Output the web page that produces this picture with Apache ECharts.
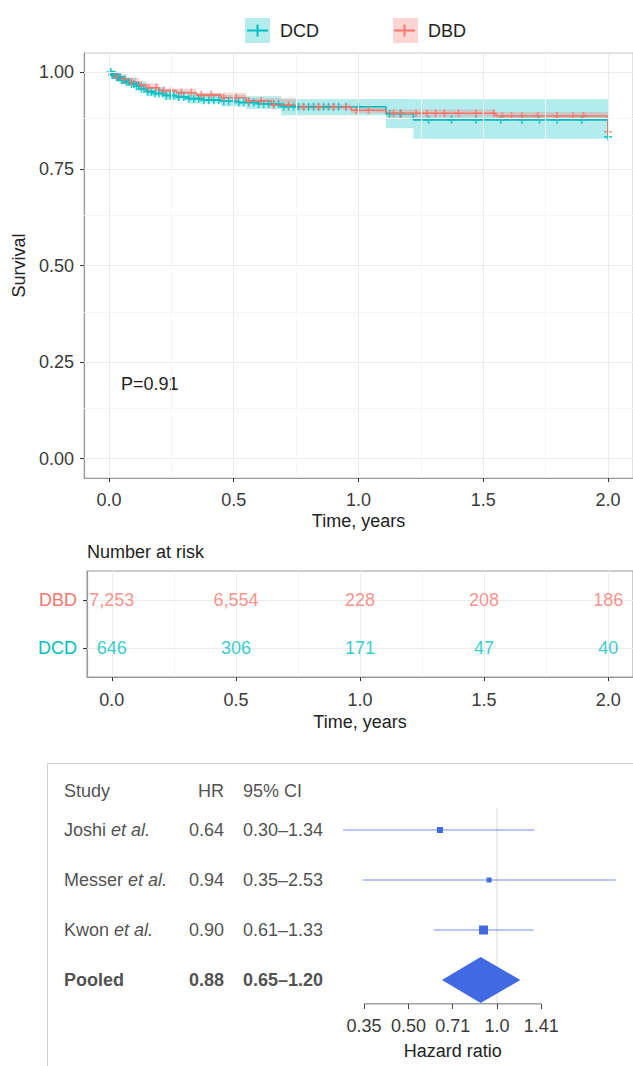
<!DOCTYPE html>
<html><head><meta charset="utf-8">
<script src="https://cdn.jsdelivr.net/npm/echarts@6/dist/echarts.min.js"></script>
<style>html,body{margin:0;padding:0;background:#fff}#c{width:633px;height:1066px}</style>
</head><body><div id="c"></div>
<script>
// ================= DATA =================
const groupNames = ['DCD', 'DBD'];
const groupColors = ['#00BFC4', '#F8766D'];
const groupBandColors = ['rgba(0,191,196,0.30)', 'rgba(248,118,109,0.30)'];

// Kaplan-Meier steps
const dcdTimes = [0, 0.01, 0.03, 0.05, 0.07, 0.09, 0.11, 0.13, 0.15, 0.18, 0.22, 0.27, 0.32, 0.38, 0.45, 0.52, 0.60, 0.69, 1.11, 1.22, 2.0];
const dcdSurv  = [1.000, 0.994, 0.987, 0.980, 0.975, 0.970, 0.964, 0.957, 0.950, 0.945, 0.940, 0.936, 0.932, 0.928, 0.925, 0.922, 0.918, 0.911, 0.893, 0.877, 0.833];
const dbdTimes = [0, 0.02, 0.05, 0.08, 0.12, 0.15, 0.20, 0.27, 0.35, 0.45, 0.55, 0.65, 0.75, 0.97, 1.11, 1.55, 2.0];
const dbdSurv  = [1.000, 0.990, 0.982, 0.975, 0.967, 0.960, 0.953, 0.947, 0.941, 0.934, 0.926, 0.915, 0.910, 0.902, 0.894, 0.887, 0.846];

// confidence bands
const dcdBandTimes = [0, 0.03, 0.07, 0.11, 0.15, 0.22, 0.32, 0.45, 0.55, 0.69, 1.11, 1.22, 2.0];
const dcdLower     = [0.995, 0.978, 0.966, 0.953, 0.938, 0.928, 0.919, 0.912, 0.905, 0.889, 0.855, 0.828, 0.828];
const dcdUpper     = [1.000, 0.995, 0.986, 0.976, 0.962, 0.952, 0.946, 0.941, 0.938, 0.931, 0.931, 0.930, 0.930];
const dbdBandTimes = [0, 0.05, 0.12, 0.20, 0.35, 0.55, 0.75, 0.97, 1.11, 1.55, 2.0];
const dbdLower     = [0.996, 0.978, 0.962, 0.948, 0.935, 0.919, 0.903, 0.894, 0.884, 0.877, 0.877];
const dbdUpper     = [1.000, 0.986, 0.972, 0.958, 0.947, 0.933, 0.917, 0.911, 0.904, 0.897, 0.897];

// censoring times
const dcdCensor = [0.004,0.008,0.012,0.016,0.02,0.025,0.03,0.035,0.04,0.045,0.05,0.055,0.06,0.065,0.07,0.08,0.09,0.10,0.11,0.12,0.13,0.14,0.155,0.17,0.185,0.20,0.215,0.23,0.245,0.26,0.28,0.30,0.32,0.34,0.36,0.38,0.40,0.42,0.44,0.46,0.48,0.50,0.52,0.54,0.56,0.58,0.60,0.62,0.64,0.66,0.68,0.70,0.72,0.74,0.76,0.78,0.80,0.82,0.84,0.86,0.88,0.90,0.92,0.95,1.00,1.125,1.168,1.281,1.373,1.471,1.570,1.655,1.725,1.796,1.895,2.0];
const dbdCensor = [0.03,0.06,0.09,0.13,0.16,0.19,0.22,0.25,0.29,0.33,0.37,0.41,0.46,0.51,0.56,0.61,0.66,0.72,0.78,0.84,0.90,0.95,0.99,1.04,1.14,1.171,1.231,1.274,1.309,1.344,1.401,1.471,1.542,1.577,1.613,1.655,1.718,1.796,1.859,1.902,2.0];

const pValueText = 'P=0.91';

// axes
const timeTicks = [0, 0.5, 1, 1.5, 2];
const timeTickLabels = ['0.0', '0.5', '1.0', '1.5', '2.0'];
const timeMinorTicks = [0.25, 0.75, 1.25, 1.75];
const survTicks = [0, 0.25, 0.5, 0.75, 1];
const survTickLabels = ['0.00', '0.25', '0.50', '0.75', '1.00'];
const survMinorTicks = [0.125, 0.375, 0.625, 0.875];

// number at risk
const riskRowNames = ['DCD', 'DBD'];   // rows 1, 2 (bottom to top)
const riskTimes = [0, 0.5, 1, 1.5, 2];
const riskDBD = [7253, 6554, 228, 208, 186];
const riskDCD = [646, 306, 171, 47, 40];

// forest plot
const studyNames = ['Joshi', 'Messer', 'Kwon'];
const studyHR = [0.64, 0.94, 0.90];
const studyLo = [0.30, 0.35, 0.61];
const studyHi = [1.34, 2.53, 1.33];
const studyBox = [6, 5, 9];
const pooledHR = 0.88, pooledLo = 0.65, pooledHi = 1.20;
const hrTicks = [0.35355, 0.5, 0.70711, 1, 1.41421];
const hrTickLabels = ['0.35', '0.50', '0.71', '1.0', '1.41'];

// ================= CHART =================
const FONT = 'Liberation Sans, Arial, Helvetica, sans-serif';
const FS = 18;
const TXT = '#3a3a3a';
const chart = echarts.init(document.getElementById('c'), null, {renderer: 'svg'});

function stepAt(times, vals, t) {
  let v = vals[0];
  for (let i = 0; i < times.length; i++) if (times[i] <= t + 1e-9) v = vals[i];
  return v;
}
const l2 = v => Math.log2(v);
const plusPath = 'path://M-0.2,-1H0.2V-0.2H1V0.2H0.2V1H-0.2V0.2H-1V-0.2H-0.2Z';

function bandSeries(name, times, lo, hi, color) {
  return {
    name, type: 'custom', xAxisIndex: 0, yAxisIndex: 0, z: 2, silent: true,
    data: [[0, 0]],
    renderItem(params, api) {
      const pts = [];
      for (let i = 0; i < times.length - 1; i++) {
        pts.push(api.coord([times[i], hi[i]]), api.coord([times[i + 1], hi[i]]));
      }
      for (let i = times.length - 2; i >= 0; i--) {
        pts.push(api.coord([times[i + 1], lo[i]]), api.coord([times[i], lo[i]]));
      }
      return {type: 'polygon', shape: {points: pts}, style: {fill: color}};
    }
  };
}

function gridLineSeries(xi, yi, xMaj, xMin, yMaj, yMin, seed) {
  const maj = {color: '#ebebeb', width: 1, type: 'solid'};
  const mnr = {color: '#f5f5f5', width: 1, type: 'solid'};
  const d = [];
  xMaj.forEach(v => d.push({xAxis: v, lineStyle: maj}));
  xMin.forEach(v => d.push({xAxis: v, lineStyle: mnr}));
  yMaj.forEach(v => d.push({yAxis: v, lineStyle: maj}));
  yMin.forEach(v => d.push({yAxis: v, lineStyle: mnr}));
  return {
    type: 'line', xAxisIndex: xi, yAxisIndex: yi, z: 1, silent: true,
    data: [seed], showSymbol: false, lineStyle: {opacity: 0},
    markLine: {silent: true, symbol: 'none', label: {show: false}, animation: false,
      lineStyle: {type: 'solid'}, emphasis: {disabled: true}, data: d}
  };
}

const axisTextStyle = {fontFamily: FONT, fontSize: FS, color: TXT};
const axLine = {show: true, onZero: false, lineStyle: {color: '#9a9a9a', width: 1.2}};

const option = {
  backgroundColor: '#fff',
  animation: false,
  textStyle: {fontFamily: FONT},
  title: {
    text: 'Number at risk', left: 87, top: 543, padding: 0,
    textStyle: {fontFamily: FONT, fontSize: FS, fontWeight: 'normal', color: '#222'}
  },
  legend: [
    {
      left: 240, top: 13, itemWidth: 25, itemHeight: 25, itemGap: 74, selectedMode: false,
      textStyle: {fontFamily: FONT, fontSize: FS, color: '#222', padding: [0, 0, 0, 5]},
      data: groupNames.map((n, i) => ({name: n, icon: 'rect', itemStyle: {color: groupBandColors[i], borderWidth: 0}}))
    },
    {
      left: 242, top: 19.5, itemWidth: 21, itemHeight: 12, itemGap: 126, selectedMode: false, z: 10,
      formatter: () => '',
      textStyle: {fontFamily: FONT, fontSize: FS, color: '#222'},
      data: groupNames.map((n, i) => ({name: n, icon: 'path://M0,5H21V7H0Z M9.5,0H11.5V12H9.5Z', itemStyle: {color: groupColors[i], borderWidth: 0}}))
    }
  ],
  grid: [
    {left: 84, right: -1, top: 53, height: 425, show: true, borderColor: '#c4c4c4', borderWidth: 1, backgroundColor: '#fff'},
    {left: 87, right: -1, top: 571, height: 106, show: true, borderColor: '#9a9a9a', borderWidth: 1, backgroundColor: '#fff'},
    {left: 284.36, width: 336.68, top: 780, height: 224},
    {left: 47, width: 283, top: 780, height: 224}
  ],
  xAxis: [
    {
      gridIndex: 0, type: 'value', min: -0.1, max: 2.1, position: 'bottom',
      axisLine: axLine,
      axisTick: {show: true, length: 4, customValues: timeTicks, lineStyle: {color: '#333'}},
      axisLabel: {customValues: timeTicks, margin: 13, ...axisTextStyle, formatter: v => timeTickLabels[timeTicks.indexOf(v)]},
      splitLine: {show: false},
      name: 'Time, years', nameLocation: 'middle', nameGap: 34,
      nameTextStyle: {fontFamily: FONT, fontSize: FS, color: '#222'}
    },
    {
      gridIndex: 1, type: 'value', min: -0.1, max: 2.1, position: 'bottom',
      axisLine: axLine,
      axisTick: {show: true, length: 4, customValues: timeTicks, lineStyle: {color: '#333'}},
      axisLabel: {customValues: timeTicks, margin: 14, ...axisTextStyle, formatter: v => timeTickLabels[timeTicks.indexOf(v)]},
      splitLine: {show: false},
      name: 'Time, years', nameLocation: 'middle', nameGap: 36,
      nameTextStyle: {fontFamily: FONT, fontSize: FS, color: '#222'}
    },
    {
      gridIndex: 2, type: 'value', min: -2.4, max: 1.4, position: 'bottom',
      axisLine: {show: false, onZero: false},
      axisTick: {show: true, length: 5, customValues: hrTicks.map(l2), lineStyle: {color: '#444'}},
      axisLabel: {customValues: hrTicks.map(l2), margin: 13, ...axisTextStyle,
        formatter: v => { let bi = 0; hrTicks.forEach((h, i) => { if (Math.abs(l2(h) - v) < Math.abs(l2(hrTicks[bi]) - v)) bi = i; }); return hrTickLabels[bi]; }},
      splitLine: {show: false},
      name: 'Hazard ratio', nameLocation: 'middle', nameGap: 38,
      nameTextStyle: {fontFamily: FONT, fontSize: FS, color: '#222'}
    },
    {gridIndex: 3, type: 'value', min: 0, max: 283, show: false}
  ],
  yAxis: [
    {
      gridIndex: 0, type: 'value', min: -0.05, max: 1.05, position: 'left',
      axisLine: axLine,
      axisTick: {show: true, length: 4, customValues: survTicks, lineStyle: {color: '#333'}},
      axisLabel: {customValues: survTicks, margin: 10, ...axisTextStyle, formatter: v => survTickLabels[survTicks.indexOf(v)]},
      splitLine: {show: false},
      name: 'Survival', nameLocation: 'middle', nameGap: 56,
      nameTextStyle: {fontFamily: FONT, fontSize: FS, color: '#222'}
    },
    {
      gridIndex: 1, type: 'value', min: 0.4, max: 2.6, position: 'left',
      axisLine: axLine,
      axisTick: {show: true, length: 4, customValues: [1, 2], lineStyle: {color: '#333'}},
      axisLabel: {customValues: [1, 2], margin: 10, fontFamily: FONT, fontSize: FS,
        formatter: v => '{r' + (v - 1) + '|' + riskRowNames[v - 1] + '}',
        rich: {r0: {color: groupColors[0], fontFamily: FONT, fontSize: FS}, r1: {color: groupColors[1], fontFamily: FONT, fontSize: FS}}},
      splitLine: {show: false}
    },
    {gridIndex: 2, type: 'value', min: 0, max: 4.48, inverse: true, show: false, axisLine: {onZero: false}},
    {gridIndex: 3, type: 'value', min: 0, max: 4.48, inverse: true, show: false, axisLine: {onZero: false}}
  ],
  graphic: [
    {type: 'text', left: 121, top: 375, style: {text: pValueText, font: FS + 'px ' + FONT, fill: '#222'}},
    {type: 'rect', shape: {x: 47.5, y: 763.5, width: 620, height: 400}, style: {fill: 'none', stroke: '#cfcfcf', lineWidth: 1}, z: -1}
  ],
  series: []
};

const S = option.series;
// KM gridlines
S.push(gridLineSeries(0, 0, timeTicks, timeMinorTicks, survTicks, survMinorTicks, [-0.1, -0.05]));
// risk table gridlines
S.push(gridLineSeries(1, 1, timeTicks, timeMinorTicks, [1, 2], [], [-0.1, 0.4]));

// bands
S.push(bandSeries('DCD', dcdBandTimes, dcdLower, dcdUpper, groupBandColors[0]));
S.push(bandSeries('DBD', dbdBandTimes, dbdLower, dbdUpper, groupBandColors[1]));

// KM lines
[[dcdTimes, dcdSurv], [dbdTimes, dbdSurv]].forEach((g, gi) => {
  S.push({
    name: groupNames[gi], type: 'line', step: 'end', xAxisIndex: 0, yAxisIndex: 0, z: 3,
    data: g[0].map((t, i) => [t, g[1][i]]), showSymbol: false, silent: true,
    itemStyle: {color: groupColors[gi]},
    lineStyle: {color: groupColors[gi], width: 1.6}
  });
});
// censor marks
[[dcdCensor, dcdTimes, dcdSurv], [dbdCensor, dbdTimes, dbdSurv]].forEach((g, gi) => {
  S.push({
    name: groupNames[gi], type: 'scatter', xAxisIndex: 0, yAxisIndex: 0, z: 4, silent: true,
    symbol: plusPath, symbolSize: 8,
    itemStyle: {color: groupColors[gi]},
    data: g[0].map(t => [t, stepAt(g[1], g[2], t)])
  });
});

// risk numbers
[[riskDCD, 1, 0], [riskDBD, 2, 1]].forEach(r => {
  S.push({
    type: 'scatter', xAxisIndex: 1, yAxisIndex: 1, z: 5, silent: true, symbolSize: 0,
    data: riskTimes.map((t, i) => [t, r[1], r[0][i]]),
    label: {show: true, position: 'inside', fontFamily: FONT, fontSize: FS, color: groupColors[r[2]],
      formatter: p => p.value[2].toLocaleString('en-US')}
  });
});

// forest: reference line at HR = 1
S.push({type: 'line', xAxisIndex: 2, yAxisIndex: 2, z: 2, silent: true, showSymbol: false,
  data: [[l2(1), 0.56], [l2(1), 4.48]], lineStyle: {color: '#dcdcdc', width: 1}});
// forest: axis line between first and last tick
S.push({type: 'line', xAxisIndex: 2, yAxisIndex: 2, z: 2, silent: true, showSymbol: false,
  data: [[l2(hrTicks[0]), 4.48], [l2(hrTicks[hrTicks.length - 1]), 4.48]], lineStyle: {color: '#444', width: 1}});
// forest: studies
S.push({
  type: 'custom', xAxisIndex: 2, yAxisIndex: 2, z: 3, silent: true,
  data: studyNames.map((n, i) => [l2(studyLo[i]), l2(studyHi[i]), l2(studyHR[i]), i + 1, studyBox[i]]),
  renderItem(params, api) {
    const a = api.coord([api.value(0), api.value(3)]);
    const b = api.coord([api.value(1), api.value(3)]);
    const c = api.coord([api.value(2), api.value(3)]);
    const s = api.value(4);
    return {type: 'group', children: [
      {type: 'line', shape: {x1: a[0], y1: a[1], x2: b[0], y2: b[1]}, style: {stroke: 'rgba(65,105,225,0.75)', lineWidth: 1.2}},
      {type: 'rect', shape: {x: c[0] - s / 2, y: c[1] - s / 2, width: s, height: s}, style: {fill: '#4169E1'}}
    ]};
  }
});
// forest: pooled diamond
S.push({
  type: 'custom', xAxisIndex: 2, yAxisIndex: 2, z: 3, silent: true,
  data: [[l2(pooledLo), l2(pooledHi), l2(pooledHR), studyNames.length + 1]],
  renderItem(params, api) {
    const r = api.value(3), h = 0.46;
    const pts = [[api.value(0), r], [api.value(2), r - h], [api.value(1), r], [api.value(2), r + h]].map(p => api.coord(p));
    return {type: 'polygon', shape: {points: pts}, style: {fill: '#4169E1'}};
  }
});

// forest: table text
const colStudy = 17, colHR = 177, colCI = 196, headerRow = 0.22;
function txt(x, y, text, align, rich) {
  return {value: [x, y], label: {formatter: text, position: align === 'right' ? 'left' : 'right', distance: 0, rich}};
}
const rich = {
  n: {fontFamily: FONT, fontSize: FS, color: '#222'},
  i: {fontFamily: FONT, fontSize: FS, color: '#222', fontStyle: 'italic'},
  b: {fontFamily: FONT, fontSize: FS, color: '#222', fontWeight: 'bold'}
};
const tData = [
  txt(colStudy, headerRow, '{n|Study}', 'left', rich),
  txt(colHR, headerRow, '{n|HR}', 'right', rich),
  txt(colCI, headerRow, '{n|95% CI}', 'left', rich)
];
studyNames.forEach((n, i) => {
  tData.push(txt(colStudy, i + 1, '{n|' + n + ' }{i|et al.}', 'left', rich));
  tData.push(txt(colHR, i + 1, '{n|' + studyHR[i].toFixed(2) + '}', 'right', rich));
  tData.push(txt(colCI, i + 1, '{n|' + studyLo[i].toFixed(2) + '\u2013' + studyHi[i].toFixed(2) + '}', 'left', rich));
});
const pr = studyNames.length + 1;
tData.push(txt(colStudy, pr, '{b|Pooled}', 'left', rich));
tData.push(txt(colHR, pr, '{b|' + pooledHR.toFixed(2) + '}', 'right', rich));
tData.push(txt(colCI, pr, '{b|' + pooledLo.toFixed(2) + '\u2013' + pooledHi.toFixed(2) + '}', 'left', rich));
S.push({type: 'scatter', xAxisIndex: 3, yAxisIndex: 3, symbolSize: 0, silent: true, z: 5,
  label: {show: true}, data: tData});

chart.setOption(option);
</script></body></html>
